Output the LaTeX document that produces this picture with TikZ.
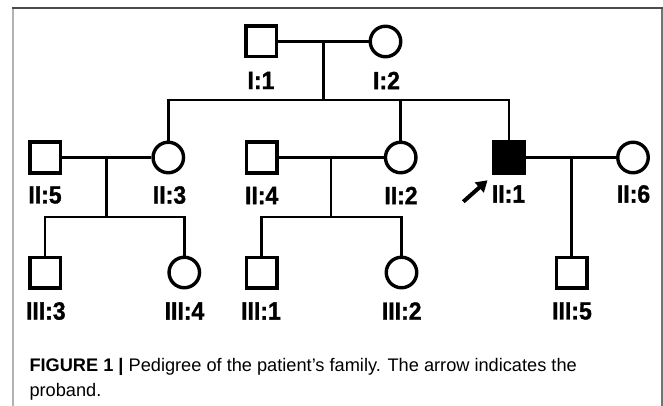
\documentclass[tikz,border=0pt]{standalone}
\usepackage{fontspec}
\setmainfont{Liberation Sans}
\newfontfamily\pedfont[FakeStretch=0.92,FakeBold=1.2]{Liberation Sans}
\usetikzlibrary{arrows.meta}
\begin{document}
\begin{tikzpicture}[x=1pt,y=-1pt,
  male/.style={draw, rectangle, line width=3.5pt, minimum size=30.5pt, inner sep=0pt},
  female/.style={draw, circle, line width=3.4pt, minimum size=30.5pt, inner sep=0pt},
  affected/.style={fill=black},
  link/.style={line width=2.7pt},
  lab/.style={inner sep=0pt, font=\pedfont\fontsize{25}{29}\selectfont\bfseries},
  captext/.style={inner sep=0pt, anchor=base west, font=\fontsize{18.2}{21}\selectfont}]
\useasboundingbox (0,0) rectangle (663,406);

% panel frame
\draw[line width=2pt, black!30] (12.7,8.5) -- (12.7,406);
\draw[line width=2pt, black!55] (661.7,8.5) -- (661.7,406);
\draw[line width=2pt, black!70] (11.7,8.5) -- (662.7,8.5);

% generation I
\node[male]   (I1) at (261,41.5) {};
\node[female] (I2) at (385.5,41.5) {};
\node[lab] (lI1) at (261,80.5) {I:1};
\node[lab] (lI2) at (386.5,80.5) {I:2};

% generation II
\node[male]   (II5) at (45,157.5) {};
\node[female] (II3) at (168.3,157.5) {};
\node[male]   (II4) at (261.7,157.5) {};
\node[female] (II2) at (400.7,157.5) {};
\node[male, affected] (II1) at (509,157.5) {};
\node[female] (II6) at (633,157.5) {};
\node[lab] (lII5) at (45,195) {II:5};
\node[lab] (lII3) at (169.5,195) {II:3};
\node[lab] (lII4) at (261.7,195.5) {II:4};
\node[lab] (lII2) at (401,195.5) {II:2};
\node[lab] (lII1) at (508.5,194) {II:1};
\node[lab] (lII6) at (633.5,194) {II:6};

% generation III
\node[male]   (III3) at (45,272.5) {};
\node[female] (III4) at (184.3,272.5) {};
\node[male]   (III1) at (261.5,272.5) {};
\node[female] (III2) at (401.5,272.5) {};
\node[male]   (III5) at (571.5,272.5) {};
\node[lab] (lIII3) at (45.8,311) {III:3};
\node[lab] (lIII4) at (184.5,311) {III:4};
\node[lab] (lIII1) at (261,311) {III:1};
\node[lab] (lIII2) at (401.7,311) {III:2};
\node[lab] (lIII5) at (572,311) {III:5};

% mating lines and descent points
\coordinate (mI)   at (323.3,41.5);
\coordinate (sI)   at (323.3,100);
\coordinate (mA)   at (106.7,157.5);
\coordinate (sA)   at (106.7,217);
\coordinate (mB)   at (331,157.5);
\coordinate (sB)   at (331,217);
\coordinate (mC)   at (571.5,157.5);

\draw[link] (I1) -- (I2);
\draw[link] (mI) -- (sI);
\draw[link] (II3.north) -- (II3.north |- sI) -- (II1.north |- sI) -- (II1.north);
\draw[link] (II2.north) -- (II2.north |- sI);

\draw[link] (II5) -- (II3);
\draw[link] (mA) -- (sA);
\draw[link] (III3.north) -- (III3.north |- sA) -- (III4.north |- sA) -- (III4.north);

\draw[link] (II4) -- (II2);
\draw[link] (mB) -- (sB);
\draw[link] (III1.north) -- (III1.north |- sB) -- (III2.north |- sB) -- (III2.north);

\draw[link] (II1) -- (II6);
\draw[link] (mC) -- (III5.north);

% proband arrow
\coordinate (pTail) at (463.3,201.7);
\coordinate (pHead) at (487.5,180.3);
\draw[line width=4pt, -{Triangle[length=11pt,width=13pt]}] (pTail) -- (pHead);

% caption
\node[captext] (cap1) at (29.3,371.7) {\textbf{FIGURE 1 |} Pedigree of the patient’s family. The arrow indicates the};
\node[captext] (cap2) at (29.3,396.7) {proband.};
\end{tikzpicture}
\end{document}
